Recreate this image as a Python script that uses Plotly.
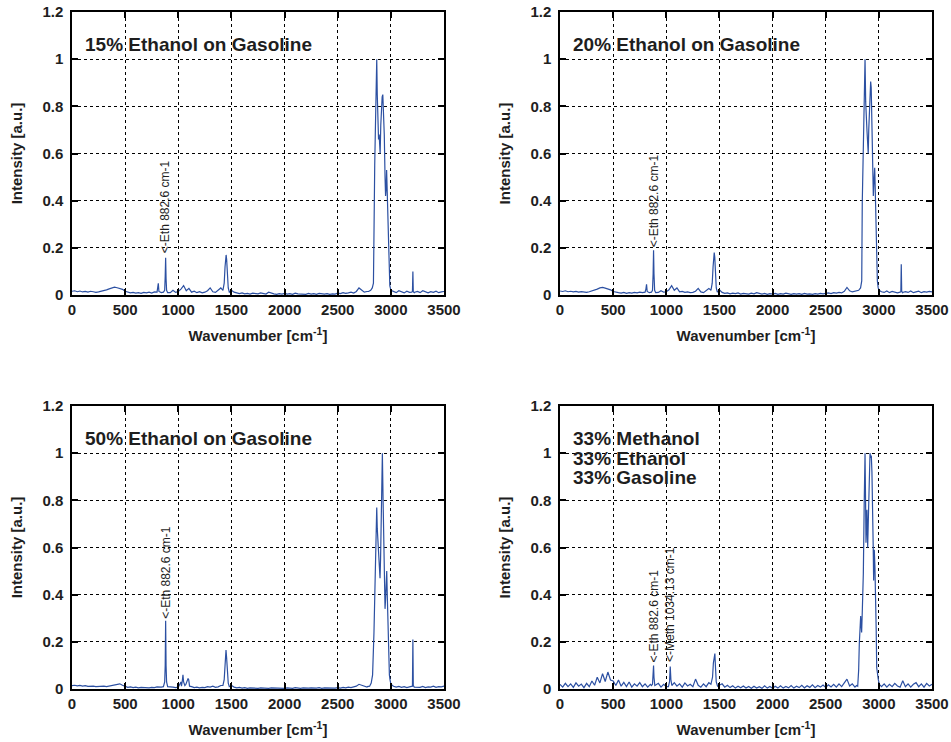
import plotly.graph_objects as go

# common baseline grid, 0..3500 cm-1 every 25
wavenumber = list(range(0, 3501, 25))

# baseline intensities (one value per grid point)
base_15 = [
    0.016, 0.018, 0.014, 0.017, 0.013, 0.015, 0.012, 0.016, 0.014, 0.011,
    0.013, 0.015, 0.018, 0.022, 0.026, 0.029, 0.033, 0.031, 0.028, 0.024,
    0.016, 0.012, 0.009, 0.011, 0.008, 0.010, 0.007, 0.011, 0.009, 0.012,
    0.008, 0.013, 0.020, 0.012, 0.020, 0.015, 0.012, 0.010, 0.020, 0.011,
    0.015, 0.025, 0.040, 0.018, 0.028, 0.012, 0.016, 0.010, 0.014, 0.009,
    0.012, 0.018, 0.030, 0.014, 0.011, 0.020, 0.030, 0.050, 0.160, 0.120,
    0.020, 0.012, 0.008, 0.006, 0.009, 0.005, 0.007, 0.004, 0.008, 0.006,
    0.005, 0.009, 0.006, 0.004, 0.012, 0.007, 0.005, 0.003, 0.006, 0.004,
    0.007, 0.004, 0.006, 0.003, 0.008, 0.005, 0.004, 0.006, 0.003, 0.007,
    0.004, 0.006, 0.003, 0.007, 0.005, 0.004, 0.006, 0.003, 0.005, 0.004,
    0.008, 0.006, 0.010, 0.007, 0.009, 0.012, 0.008, 0.015, 0.030, 0.020,
    0.012, 0.015, 0.030, 0.050, 0.300, 0.800, 0.700, 0.600, 0.300, 0.050,
    0.030, 0.015, 0.010, 0.018, 0.012, 0.009, 0.016, 0.011, 0.014, 0.012,
    0.015, 0.010, 0.018, 0.012, 0.009, 0.014, 0.011, 0.016, 0.010, 0.013,
    0.015,
]
base_20 = [
    0.017, 0.015, 0.018, 0.014, 0.016, 0.013, 0.015, 0.012, 0.014, 0.012,
    0.011, 0.014, 0.017, 0.021, 0.025, 0.030, 0.032, 0.029, 0.027, 0.022,
    0.015, 0.011, 0.010, 0.008, 0.011, 0.007, 0.010, 0.008, 0.011, 0.009,
    0.012, 0.010, 0.018, 0.011, 0.019, 0.014, 0.013, 0.011, 0.018, 0.012,
    0.014, 0.022, 0.040, 0.020, 0.030, 0.013, 0.015, 0.011, 0.013, 0.010,
    0.011, 0.016, 0.028, 0.013, 0.010, 0.018, 0.028, 0.050, 0.170, 0.130,
    0.022, 0.011, 0.007, 0.009, 0.005, 0.008, 0.006, 0.009, 0.004, 0.007,
    0.006, 0.004, 0.008, 0.005, 0.010, 0.006, 0.004, 0.007, 0.003, 0.006,
    0.004, 0.007, 0.003, 0.006, 0.004, 0.008, 0.005, 0.003, 0.006, 0.004,
    0.006, 0.003, 0.007, 0.004, 0.005, 0.003, 0.006, 0.004, 0.007, 0.005,
    0.007, 0.009, 0.006, 0.010, 0.008, 0.011, 0.009, 0.016, 0.032, 0.018,
    0.013, 0.016, 0.030, 0.050, 0.300, 0.800, 0.700, 0.600, 0.300, 0.050,
    0.028, 0.014, 0.011, 0.017, 0.010, 0.015, 0.012, 0.009, 0.016, 0.011,
    0.014, 0.011, 0.017, 0.010, 0.013, 0.016, 0.010, 0.014, 0.012, 0.015,
    0.013,
]
base_50 = [
    0.014, 0.016, 0.013, 0.015, 0.012, 0.014, 0.011, 0.013, 0.012, 0.010,
    0.011, 0.009, 0.012, 0.010, 0.013, 0.015, 0.017, 0.020, 0.022, 0.016,
    0.010, 0.007, 0.009, 0.006, 0.008, 0.005, 0.007, 0.006, 0.008, 0.005,
    0.007, 0.006, 0.009, 0.007, 0.010, 0.008, 0.030, 0.010, 0.008, 0.006,
    0.008, 0.030, 0.040, 0.015, 0.035, 0.010, 0.006, 0.008, 0.005, 0.007,
    0.006, 0.010, 0.008, 0.012, 0.007, 0.009, 0.015, 0.040, 0.150, 0.100,
    0.015, 0.008, 0.005, 0.007, 0.004, 0.006, 0.003, 0.005, 0.004, 0.006,
    0.003, 0.005, 0.004, 0.006, 0.003, 0.005, 0.004, 0.003, 0.005, 0.004,
    0.003, 0.005, 0.004, 0.003, 0.006, 0.004, 0.003, 0.005, 0.003, 0.004,
    0.005, 0.003, 0.004, 0.006, 0.003, 0.005, 0.004, 0.003, 0.005, 0.004,
    0.006, 0.004, 0.007, 0.005, 0.008, 0.006, 0.009, 0.012, 0.020, 0.015,
    0.010, 0.008, 0.012, 0.050, 0.300, 0.800, 0.700, 0.600, 0.300, 0.050,
    0.020, 0.012, 0.008, 0.011, 0.007, 0.010, 0.006, 0.009, 0.012, 0.008,
    0.010, 0.007, 0.011, 0.006, 0.009, 0.008, 0.012, 0.007, 0.010, 0.009,
    0.012,
]
base_33 = [
    0.020, 0.008, 0.024, 0.010, 0.022, 0.007, 0.026, 0.012, 0.021, 0.006,
    0.024, 0.010, 0.034, 0.016, 0.050, 0.026, 0.065, 0.032, 0.072, 0.038,
    0.034, 0.015, 0.038, 0.012, 0.028, 0.010, 0.030, 0.008, 0.022, 0.012,
    0.027, 0.010, 0.022, 0.008, 0.020, 0.008, 0.017, 0.024, 0.008, 0.020,
    0.010, 0.022, 0.008, 0.027, 0.012, 0.022, 0.008, 0.026, 0.013, 0.020,
    0.010, 0.042, 0.016, 0.008, 0.022, 0.010, 0.027, 0.040, 0.120, 0.080,
    0.015, 0.022, 0.008, 0.016, 0.006, 0.014, 0.004, 0.012, 0.005, 0.013,
    0.004, 0.011, 0.003, 0.012, 0.004, 0.010, 0.003, 0.014, 0.004, 0.011,
    0.003, 0.012, 0.004, 0.014, 0.004, 0.011, 0.005, 0.015, 0.004, 0.012,
    0.006, 0.016, 0.005, 0.014, 0.007, 0.018, 0.006, 0.015, 0.008, 0.017,
    0.007, 0.018, 0.009, 0.020, 0.008, 0.022, 0.010, 0.027, 0.042, 0.013,
    0.022, 0.008, 0.015, 0.050, 0.300, 0.800, 0.700, 0.600, 0.300, 0.050,
    0.027, 0.010, 0.022, 0.008, 0.020, 0.010, 0.024, 0.013, 0.008, 0.035,
    0.010, 0.022, 0.008, 0.020, 0.027, 0.010, 0.022, 0.008, 0.024, 0.013,
    0.020,
]

# peak clusters: (wavenumbers, intensities); they replace the baseline over their span
peaks_15 = [
    ([800, 806, 812, 818, 840, 860, 872, 877, 881, 885, 890, 900],
     [0.012, 0.030, 0.050, 0.015, 0.010, 0.012, 0.020, 0.080, 0.158, 0.070, 0.020, 0.010]),
    ([1420, 1432, 1440, 1445, 1450, 1455, 1462, 1470, 1480],
     [0.020, 0.050, 0.120, 0.140, 0.170, 0.150, 0.080, 0.030, 0.012]),
    ([2790, 2810, 2825, 2836, 2841, 2848, 2855, 2861, 2867, 2872, 2878, 2884, 2890, 2895, 2899,
      2905, 2912, 2918, 2924, 2930, 2938, 2945, 2950, 2955, 2960, 2965, 2972, 2980, 2990, 3000],
     [0.015, 0.020, 0.030, 0.050, 0.400, 0.550, 0.720, 0.880, 1.000, 0.850, 0.700, 0.660, 0.680, 0.620, 0.600,
      0.720, 0.800, 0.840, 0.850, 0.800, 0.680, 0.500, 0.420, 0.450, 0.530, 0.450, 0.250, 0.100, 0.040, 0.020]),
    ([3195, 3203, 3207, 3211, 3220], [0.012, 0.015, 0.100, 0.014, 0.010]),
]
peaks_20 = [
    ([800, 808, 814, 820, 840, 860, 870, 876, 880, 884, 890, 900],
     [0.012, 0.025, 0.045, 0.015, 0.010, 0.012, 0.020, 0.090, 0.190, 0.090, 0.020, 0.010]),
    ([1420, 1432, 1440, 1446, 1451, 1456, 1463, 1470, 1480],
     [0.020, 0.050, 0.120, 0.150, 0.180, 0.160, 0.090, 0.030, 0.012]),
    ([2790, 2810, 2828, 2839, 2844, 2850, 2857, 2864, 2870, 2876, 2882, 2888, 2893, 2900, 2905,
      2912, 2918, 2923, 2928, 2934, 2940, 2948, 2954, 2961, 2966, 2972, 2980, 2986, 2994, 3002],
     [0.015, 0.020, 0.030, 0.060, 0.390, 0.550, 0.750, 0.920, 1.000, 0.820, 0.720, 0.700, 0.660, 0.600, 0.700,
      0.820, 0.900, 0.905, 0.880, 0.750, 0.600, 0.420, 0.480, 0.540, 0.450, 0.280, 0.120, 0.060, 0.030, 0.020]),
    ([3200, 3207, 3211, 3215, 3224], [0.012, 0.014, 0.130, 0.015, 0.010]),
]
peaks_50 = [
    ([840, 860, 872, 877, 881, 885, 890, 900],
     [0.008, 0.010, 0.030, 0.100, 0.290, 0.100, 0.030, 0.010]),
    ([1030, 1038, 1044, 1050, 1062, 1072, 1082, 1092, 1098, 1106],
     [0.012, 0.035, 0.060, 0.030, 0.015, 0.020, 0.030, 0.045, 0.040, 0.012]),
    ([1420, 1432, 1440, 1449, 1455, 1462, 1470, 1480],
     [0.015, 0.040, 0.100, 0.165, 0.130, 0.070, 0.025, 0.010]),
    ([2780, 2800, 2815, 2828, 2841, 2850, 2860, 2867, 2872, 2880, 2888, 2894, 2898, 2903, 2908,
      2914, 2920, 2926, 2932, 2938, 2945, 2950, 2955, 2961, 2966, 2972, 2980, 2986, 2992, 3000],
     [0.010, 0.012, 0.025, 0.060, 0.240, 0.420, 0.630, 0.770, 0.680, 0.620, 0.550, 0.500, 0.470, 0.550, 0.700,
      0.880, 1.000, 0.820, 0.620, 0.450, 0.340, 0.380, 0.480, 0.500, 0.400, 0.250, 0.120, 0.060, 0.040, 0.020]),
    ([3195, 3203, 3207, 3211, 3220], [0.010, 0.012, 0.210, 0.015, 0.008]),
]
peaks_33 = [
    ([860, 870, 876, 880, 884, 892], [0.015, 0.020, 0.050, 0.100, 0.050, 0.015]),
    ([1020, 1030, 1037, 1043, 1052], [0.010, 0.030, 0.095, 0.040, 0.015]),
    ([1420, 1435, 1443, 1450, 1457, 1463, 1470, 1482],
     [0.020, 0.050, 0.110, 0.150, 0.150, 0.090, 0.030, 0.012]),
    ([2790, 2801, 2810, 2816, 2822, 2829, 2834, 2838, 2845, 2854, 2862, 2870, 2875, 2879, 2884, 2888,
      2892, 2895, 2900, 2907, 2912, 2917, 2923, 2929, 2935, 2942, 2947, 2951, 2957, 2963, 2970, 2975,
      2980, 2988, 2995, 3005],
     [0.015, 0.012, 0.080, 0.190, 0.260, 0.310, 0.270, 0.240, 0.340, 0.490, 0.780, 1.000, 0.800, 0.620, 0.700, 0.760,
      0.660, 0.600, 0.700, 0.860, 0.950, 1.000, 0.980, 0.990, 0.920, 0.800, 0.600, 0.460, 0.590, 0.520, 0.410, 0.250,
      0.090, 0.050, 0.040, 0.020]),
]

titles_15 = ["15% Ethanol on Gasoline"]
titles_20 = ["20% Ethanol on Gasoline"]
titles_50 = ["50% Ethanol on Gasoline"]
titles_33 = ["33% Methanol", "33% Ethanol", "33% Gasoline"]

# peak tags: (wavenumber, intensity where the text starts, text)
tags_15 = [(882, 0.17, "&lt;-Eth 882.6 cm-1")]
tags_20 = [(882, 0.195, "&lt;-Eth 882.6 cm-1")]
tags_50 = [(882, 0.29, "&lt;-Eth 882.6 cm-1")]
tags_33 = [(882, 0.105, "&lt;-Eth 882.6 cm-1"), (1037, 0.105, "&lt;-Meth 1034.13 cm-1")]

x_ticks = [0, 500, 1000, 1500, 2000, 2500, 3000, 3500]
y_ticks = [0, 0.2, 0.4, 0.6, 0.8, 1, 1.2]

LINE_COLOR = "#2C50A2"
TEXT_COLOR = "#1e1e1e"
FONT = "Liberation Sans, Arial, Helvetica, sans-serif"


def build_spectrum(base, clusters):
    pts = []
    for xv, yv in zip(wavenumber, base):
        if any(min(cx) <= xv <= max(cx) for cx, _ in clusters):
            continue
        pts.append((xv, yv))
    for cx, cy in clusters:
        pts.extend(zip(cx, cy))
    pts.sort()
    return [p[0] for p in pts], [p[1] for p in pts]


panels = [
    (base_15, peaks_15, titles_15, tags_15, [0.0757, 0.4669], [0.6024, 0.9838]),
    (base_20, peaks_20, titles_20, tags_20, [0.5889, 0.9800], [0.6024, 0.9838]),
    (base_50, peaks_50, titles_50, tags_50, [0.0757, 0.4669], [0.0714, 0.4528]),
    (base_33, peaks_33, titles_33, tags_33, [0.5889, 0.9800], [0.0714, 0.4528]),
]

fig = go.Figure()
annotations = []
layout = {}

for i, (base, clusters, titles, tags, xdom, ydom) in enumerate(panels, start=1):
    sfx = "" if i == 1 else str(i)
    xs, ys = build_spectrum(base, clusters)
    fig.add_trace(go.Scatter(
        x=xs, y=ys, mode="lines",
        line=dict(color=LINE_COLOR, width=1.2),
        xaxis="x" + sfx, yaxis="y" + sfx, showlegend=False,
    ))

    common = dict(
        showgrid=True, gridcolor="black", griddash="dot", gridwidth=1,
        showline=True, linecolor="black", linewidth=1.5, mirror="ticks",
        ticks="inside", ticklen=6, tickwidth=1.5, tickcolor="black",
        zeroline=False, automargin=False, ticklabeloverflow="allow",
        tickfont=dict(family=FONT, size=15, color=TEXT_COLOR, weight="bold"),
    )
    layout["xaxis" + sfx] = dict(
        common, domain=xdom, anchor="y" + sfx, range=[0, 3500],
        tickvals=x_ticks, ticktext=[str(v) for v in x_ticks],
        title=dict(text="Wavenumber [cm<sup>-1</sup>]", standoff=14,
                   font=dict(family=FONT, size=15, color=TEXT_COLOR, weight="bold")),
    )
    layout["yaxis" + sfx] = dict(
        common, domain=ydom, anchor="x" + sfx, range=[0, 1.2],
        tickvals=y_ticks, ticktext=["0", "0.2", "0.4", "0.6", "0.8", "1", "1.2"],
        ticklabelstandoff=4,
        title=dict(text="Intensity [a.u.]", standoff=16,
                   font=dict(family=FONT, size=15, color=TEXT_COLOR, weight="bold")),
    )

    title_y = [1.063, 0.978, 0.897]
    for t, ty in zip(titles, title_y):
        annotations.append(dict(
            x=100, y=ty, xref="x" + sfx, yref="y" + sfx, text=t, showarrow=False,
            xanchor="left", yanchor="middle",
            font=dict(family=FONT, size=19, color=TEXT_COLOR, weight="bold"),
        ))
    for tx, ty, text in tags:
        annotations.append(dict(
            x=tx, y=ty, xref="x" + sfx, yref="y" + sfx, text=text, showarrow=False,
            textangle=-90, xanchor="center", yanchor="bottom",
            font=dict(family=FONT, size=12, color=TEXT_COLOR),
        ))

fig.update_layout(
    width=951, height=742,
    margin=dict(l=0, r=0, t=0, b=0),
    paper_bgcolor="white", plot_bgcolor="white",
    annotations=annotations,
    **layout,
)

# drop the browser's default 8px body margin so the figure sits at the page corner
fig.write_html(
    "out.html",
    config={"displayModeBar": False},
    post_script="document.body.style.margin = '0';",
)
